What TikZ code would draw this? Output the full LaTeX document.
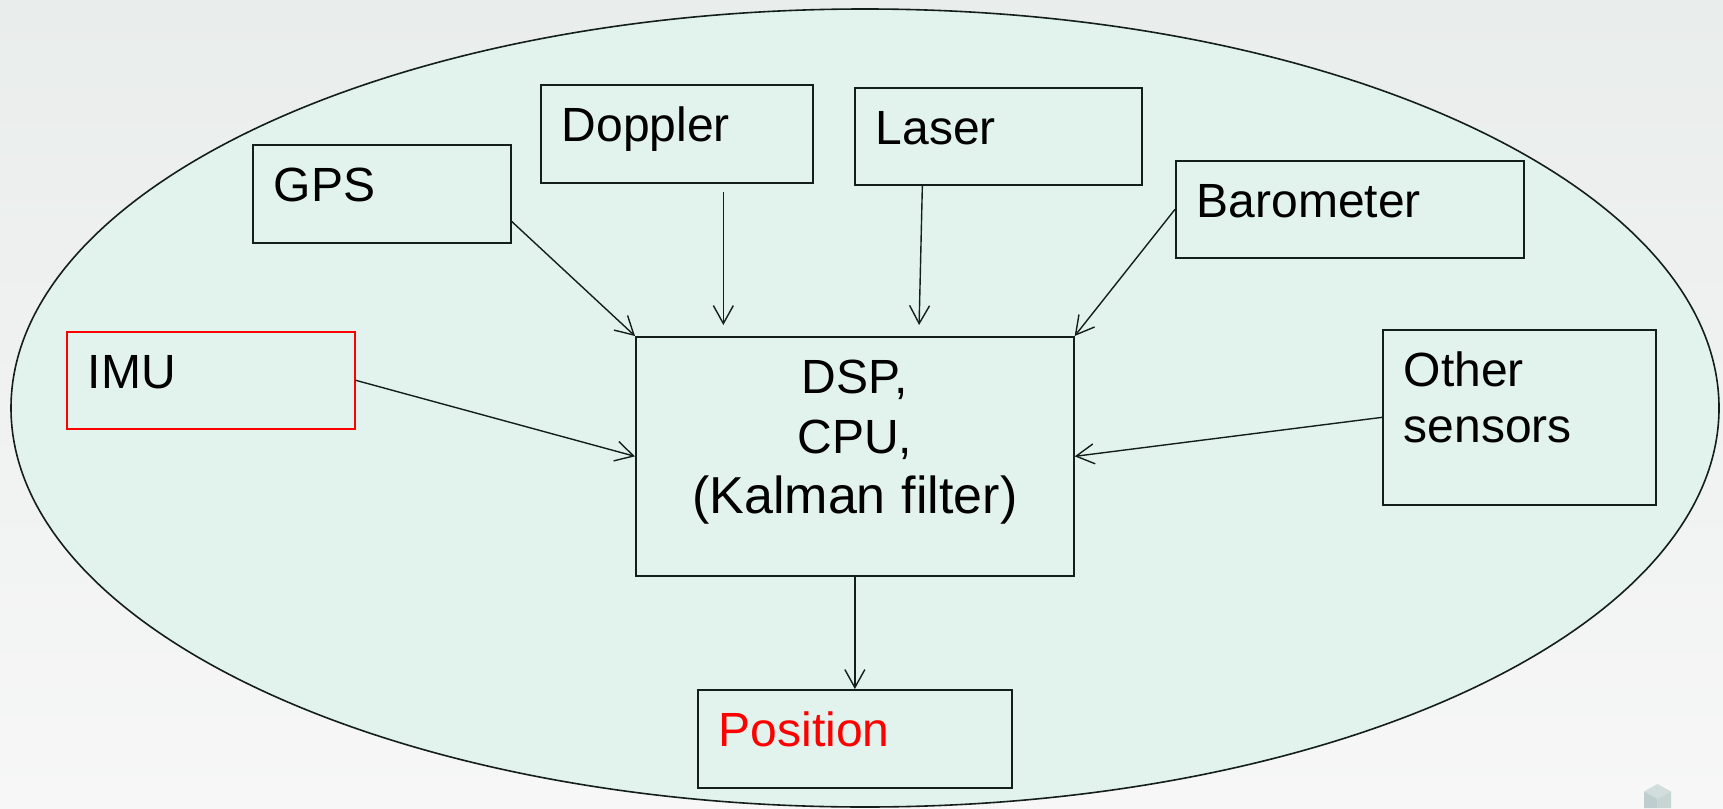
\documentclass[tikz,border=0pt]{standalone}
\usepackage{fontspec}
\setmainfont{Liberation Sans}
\usetikzlibrary{arrows.meta,positioning}
\definecolor{mint}{RGB}{226,243,237}
\definecolor{bgTop}{RGB}{233,237,236}
\definecolor{bgBot}{RGB}{246,247,246}
\definecolor{edgeC}{RGB}{20,30,28}
\definecolor{cubeT}{RGB}{210,222,222}
\definecolor{cubeL}{RGB}{190,205,205}
\definecolor{cubeR}{RGB}{200,213,213}
\tikzstyle{sB}=[draw=edgeC, line width=0.85pt, fill=mint, anchor=north west, align=left, inner xsep=10.5pt, inner ysep=0pt, text height=28.5pt, text depth=20.5pt, font=\fontsize{24}{28}\selectfont]
\tikzstyle{cB}=[sB, align=center, inner xsep=0pt, text width=219pt, text depth=91pt, font=\fontsize{24}{30}\selectfont]
\tikzstyle{eArr}=[line width=0.7pt, draw=edgeC, -{Straight Barb[length=9pt,width=10pt]}]
\begin{document}
\begin{tikzpicture}[x=0.5pt,y=-0.5pt]
                \useasboundingbox (0,0) rectangle (1723,808);
                \shade[top color=bgTop, middle color=bgBot, bottom color=bgBot] (0,0) rectangle (1723,808);
                \draw[fill=mint, draw=edgeC, line width=0.8pt] (865,408) ellipse [x radius=427pt, y radius=199.5pt];
                \draw (252,144) node[sB,text width=108pt] (nGPS) {GPS};
                \draw (540,84) node[sB,text width=115pt] (nDop) {Doppler};
                \draw (854,87) node[sB,text width=122.5pt,text depth=20pt] (nLas) {Laser};
                \draw (1175,160) node[sB,text width=153pt,text depth=20pt] (nBar) {Barometer};
                \draw (66,331) node[sB,text width=123pt,text depth=20pt,draw=red,line width=0.75pt] (nIMU) {IMU};
                \draw (1382,329) node[sB,text width=115.5pt,text depth=59pt] (nOth) {Other\\sensors};
                \draw (635,336) node[cB] (nDSP) {DSP,\\CPU,\\{\fontsize{26}{30}\selectfont(Kalman filter)}};
                \draw (697,689) node[sB,text width=136pt,text=red] (nPos) {Position};
                \path
                    (nGPS.-12) edge[eArr] (nDSP.north west)
                    (nDop.-47) edge[eArr, shorten <=4pt, shorten >=5.5pt] (nDop.-47 |- nDSP.north)
                    (nLas.213) edge[eArr, shorten >=5.5pt] (nDSP.62)
                    (nBar.west) edge[eArr] (nDSP.north east)
                    (nIMU.east) edge[eArr] (nDSP.west)
                    (nOth.west) edge[eArr] (nDSP.east)
                    (nDSP.south) edge[eArr] (nPos.north)
                ;
                % corner mark
                \fill[cubeT] (1657.5,784) -- (1671,791.5) -- (1657.5,799) -- (1644,791.5) -- cycle;
                \fill[cubeL] (1644,791.5) -- (1657.5,799) -- (1657.5,808) -- (1644,808) -- cycle;
                \fill[cubeR] (1671,791.5) -- (1657.5,799) -- (1657.5,808) -- (1671,808) -- cycle;
        \end{tikzpicture}
\end{document}
